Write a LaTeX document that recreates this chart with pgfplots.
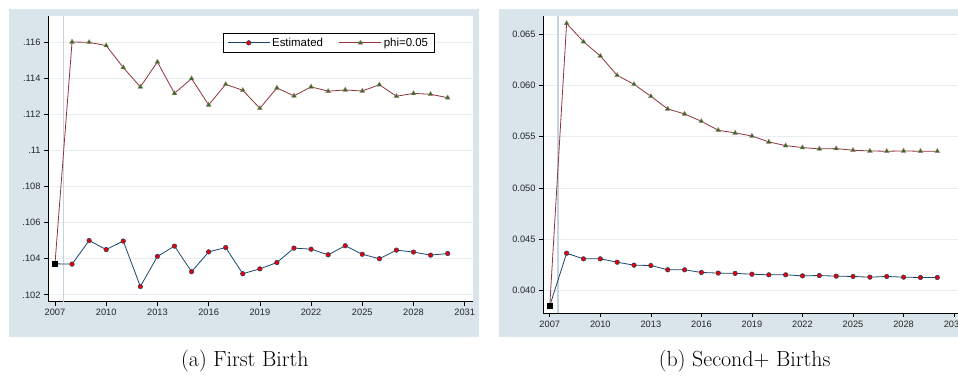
\documentclass[border=0pt]{standalone}
\usepackage{fontspec}
\usepackage{pgfplots}
\pgfplotsset{compat=1.18}
\newfontfamily\arial{Liberation Sans}
\definecolor{bgc}{RGB}{217,229,235}
\definecolor{navyc}{RGB}{26,71,111}
\definecolor{maroonc}{RGB}{144,53,59}
\definecolor{gridc}{RGB}{230,238,241}
\definecolor{vlinec}{RGB}{198,212,225}
\definecolor{mgreen}{RGB}{30,115,30}
\definecolor{mred}{RGB}{235,0,0}
\pgfplotsset{
  statastyle/.style={
    scale only axis,
    axis background/.style={fill=white},
    axis x line*=bottom, axis y line*=left,
    axis line style={black, line width=0.9bp, -},
    tick align=outside,
    major tick length=4bp,
    tick style={black, line width=0.7bp},
    scaled y ticks=false, scaled x ticks=false,
    ymajorgrids, major grid style={gridc, line width=1bp},
    xtick={2007,2010,2013,2016,2019,2022,2025,2028,2031},
    xticklabels={2007,2010,2013,2016,2019,2022,2025,2028,2031},
    ticklabel style={font=\arial\fontsize{9.3}{9.3}\selectfont, text=black!85},
    legend image code/.code={\draw[##1,mark=none] (0bp,0bp) -- (42bp,0bp); \draw[##1] plot coordinates {(21bp,0bp)};},
  },
  est/.style={navyc, line width=0.8bp, mark=*, mark size=2.3bp,
    mark options={fill=mred, draw=navyc, line width=0.5bp}},
  phi/.style={maroonc, line width=0.8bp, mark=triangle*, mark size=2.8bp,
    mark options={fill=mgreen, draw=maroonc!65!white, line width=0.4bp}},
  sq/.style={only marks, mark=square*, mark size=2.7bp, black, forget plot},
}
\begin{document}
\begin{tikzpicture}
\path (0bp,0bp) rectangle (958bp,-378bp);
\fill[bgc] (9bp,-9bp) rectangle (479bp,-337bp);
\fill[bgc] (499bp,-9bp) rectangle (958bp,-337bp);

% ---------- (a) First Birth ----------
\begin{axis}[statastyle,
  at={(48bp,-302bp)}, anchor=south west,
  width=425bp, height=286bp,
  xmin=2006.59, xmax=2031.47,
  ymin=0.10161, ymax=0.11746,
  ytick={0.102,0.104,0.106,0.108,0.110,0.112,0.114,0.116},
  yticklabels={.102,.104,.106,.108,.11,.112,.114,.116},
  legend style={at={(0.4118,0.9406)}, anchor=north west, legend columns=2,
    draw=black, line width=0.9bp, font=\arial\fontsize{11.5}{11.5}\selectfont,
    /tikz/every even column/.append style={column sep=14bp},
    inner xsep=4bp, inner ysep=2.5bp, cells={anchor=west}},
]
\draw[vlinec, line width=1.5bp] ({axis cs:2007.5,0.105}|-{rel axis cs:0,0}) -- ({axis cs:2007.5,0.105}|-{rel axis cs:0,1});
\addplot[navyc, line width=0.8bp, forget plot] coordinates {(2007,0.10372) (2008,0.10370)};
\addplot[maroonc, line width=0.8bp, forget plot] coordinates {(2007,0.10372) (2008,0.11602)};
\addplot[est] coordinates {
(2008,0.10370) (2009,0.10501) (2010,0.10451) (2011,0.10498)
(2012,0.10246) (2013,0.10413) (2014,0.10470) (2015,0.10328) (2016,0.10438)
(2017,0.10462) (2018,0.10317) (2019,0.10344) (2020,0.10379) (2021,0.10459)
(2022,0.10453) (2023,0.10422) (2024,0.10472) (2025,0.10425) (2026,0.10400)
(2027,0.10448) (2028,0.10437) (2029,0.10420) (2030,0.10429)};
\addlegendentry{Estimated}
\addplot[phi] coordinates {
(2008,0.11602) (2009,0.11600) (2010,0.11582) (2011,0.11460)
(2012,0.11353) (2013,0.11491) (2014,0.11317) (2015,0.11399) (2016,0.11253)
(2017,0.11367) (2018,0.11334) (2019,0.11234) (2020,0.11347) (2021,0.11303)
(2022,0.11353) (2023,0.11329) (2024,0.11336) (2025,0.11330) (2026,0.11365)
(2027,0.11301) (2028,0.11317) (2029,0.11312) (2030,0.11293)};
\addlegendentry{phi=0.05}
\addplot[sq] coordinates {(2007,0.10372)};
\end{axis}

% ---------- (b) Second+ Births ----------
\begin{axis}[statastyle,
  at={(543.3bp,-313.3bp)}, anchor=south west,
  width=414.7bp, height=297.3bp,
  xmin=2006.60, xmax=2031.20,
  ymin=0.03779, ymax=0.06679,
  ytick={0.040,0.045,0.050,0.055,0.060,0.065},
  yticklabels={0.040,0.045,0.050,0.055,0.060,0.065},
  xticklabel style={overlay},
]
\draw[vlinec, line width=1.5bp] ({axis cs:2007.5,0.05}|-{rel axis cs:0,0}) -- ({axis cs:2007.5,0.05}|-{rel axis cs:0,1});
\addplot[navyc, line width=0.8bp, forget plot] coordinates {(2007,0.03850) (2008,0.04364)};
\addplot[maroonc, line width=0.8bp, forget plot] coordinates {(2007,0.03850) (2008,0.06607)};
\addplot[est] coordinates {
(2008,0.04364) (2009,0.04309) (2010,0.04309) (2011,0.04276)
(2012,0.04247) (2013,0.04244) (2014,0.04202) (2015,0.04202) (2016,0.04176)
(2017,0.04170) (2018,0.04167) (2019,0.04159) (2020,0.04153) (2021,0.04153)
(2022,0.04143) (2023,0.04146) (2024,0.04140) (2025,0.04137) (2026,0.04130)
(2027,0.04137) (2028,0.04130) (2029,0.04127) (2030,0.04127)};
\addplot[phi] coordinates {
(2008,0.06607) (2009,0.06428) (2010,0.06289) (2011,0.06100)
(2012,0.06012) (2013,0.05895) (2014,0.05772) (2015,0.05723) (2016,0.05651)
(2017,0.05564) (2018,0.05538) (2019,0.05508) (2020,0.05450) (2021,0.05414)
(2022,0.05395) (2023,0.05382) (2024,0.05385) (2025,0.05369) (2026,0.05362)
(2027,0.05359) (2028,0.05362) (2029,0.05359) (2030,0.05359)};
\addplot[sq] coordinates {(2007,0.03850)};
\end{axis}

\node[anchor=base, font=\fontsize{22}{26}\selectfont] at (245bp,-367bp) {(a) First Birth};
\node[anchor=base, font=\fontsize{22}{26}\selectfont] at (745bp,-367bp) {(b) Second+ Births};
\end{tikzpicture}
\end{document}
